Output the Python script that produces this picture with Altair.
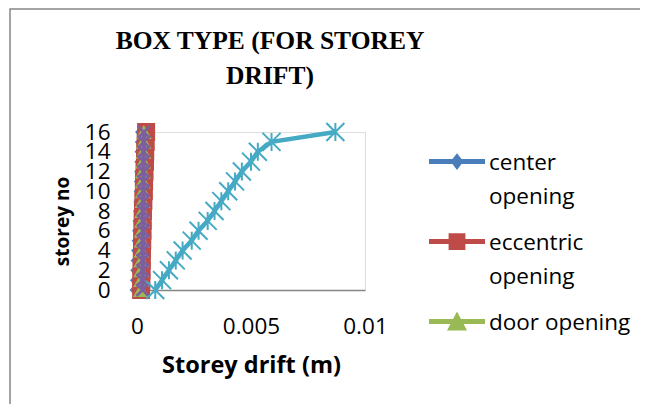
import altair as alt
import pandas as pd

# ---- data ----
storeys = list(range(17))
center_opening = [0.00000, 0.00002, 0.00003, 0.00005, 0.00007, 0.00009, 0.00011, 0.00013,
                  0.00015, 0.00017, 0.00018, 0.00019, 0.00020, 0.00021, 0.00022, 0.00023, 0.00024]
eccentric_opening = [0.00018, 0.00019, 0.00020, 0.00021, 0.00022, 0.00023, 0.00024, 0.00025,
                     0.00026, 0.00028, 0.00030, 0.00031, 0.00033, 0.00035, 0.00036, 0.00038, 0.00040]
door_opening = [0.00017, 0.00018, 0.00018, 0.00019, 0.00020, 0.00021, 0.00021, 0.00022,
                0.00023, 0.00024, 0.00025, 0.00025, 0.00026, 0.00027, 0.00028, 0.00029, 0.00030]
series_4 = [0.00024, 0.00024, 0.00025, 0.00025, 0.00026, 0.00026, 0.00027, 0.00027,
            0.00027, 0.00028, 0.00028, 0.00028, 0.00029, 0.00029, 0.00029, 0.00030, 0.00030]
series_5 = [0.0008, 0.0011, 0.0014, 0.0017, 0.0020, 0.0024, 0.0027, 0.0031,
            0.0034, 0.0037, 0.0040, 0.0043, 0.0046, 0.0050, 0.0053, 0.0059, 0.0087]

legend_names = ["center opening", "eccentric opening", "door opening"]
colors = ["#4A7EBB", "#BE4B48", "#98B954", "#7D5FA0", "#46AAC5"]
x_ticks = [0, 0.005, 0.01]
y_ticks = [0, 2, 4, 6, 8, 10, 12, 14, 16]

FONT = "Open Sans"
XS = alt.Scale(domain=[0, 0.01], nice=False)
YS = alt.Scale(domain=[0, 16], nice=False)

# legend symbols: line with marker in the middle (unit box -1..1)
dy = -0.30
t = 0.09
def shift(path_pts):
    return "M" + " L".join(f"{x:.3f},{y + dy:.3f}" for x, y in path_pts) + " Z"

dw, dh = 0.232, 0.30
dx_e = dw * (1 - t / dh)
sym_diamond = shift([(-1, -t), (-dx_e, -t), (0, -dh), (dx_e, -t), (1, -t), (1, t),
                     (dx_e, t), (0, dh), (-dx_e, t), (-1, t)])
sq = 0.30
sym_square = shift([(-1, -t), (-sq, -t), (-sq, -sq), (sq, -sq), (sq, -t), (1, -t),
                    (1, t), (sq, t), (sq, sq), (-sq, sq), (-sq, t), (-1, t)])
ta, tb, tw = -0.357, 0.32, 0.357
def tri_x(y):
    return tw * (y - ta) / (tb - ta)
sym_triangle = shift([(-1, -t), (-tri_x(-t), -t), (0, ta), (tri_x(-t), -t), (1, -t), (1, t),
                      (tri_x(t), t), (tw, tb), (-tw, tb), (-tri_x(t), t), (-1, t)])

x_enc = lambda: alt.X("drift:Q", scale=XS, axis=alt.Axis(
    values=x_ticks, format="~g", title="Storey drift (m)", ticks=False, grid=False,
    domainColor="#868686", domainWidth=1.5, labelFlush=False, labelPadding=25,
    labelFont=FONT, labelFontSize=22.5, labelColor="black",
    titleFont=FONT, titleFontSize=23.5, titleFontWeight="bold", titleColor="black",
    titleX=114, titleY=75, titleBaseline="middle"))
y_enc = lambda: alt.Y("storey:Q", scale=YS, axis=alt.Axis(
    values=y_ticks, title="storey no", ticks=False, grid=False, domain=False,
    labelFlush=False, labelOverlap=False, labelPadding=27,
    labelFont=FONT, labelFontSize=22.5, labelColor="black",
    titleFont=FONT, titleFontSize=19, titleFontWeight="bold", titleColor="black",
    titleX=-75, titleY=89, titleBaseline="middle", titleAlign="center", titleAngle=-90))

def frame(vals):
    return pd.DataFrame({"storey": storeys, "drift": vals})

def series_layers(vals, color, shape, size, filled, sw=None):
    base = alt.Chart(frame(vals))
    line = base.mark_line(color=color, strokeWidth=4.5).encode(
        x=x_enc(), y=y_enc(), order="storey:Q")
    kw = dict(shape=shape, size=size, filled=filled, opacity=1)
    if filled:
        kw["color"] = color
    else:
        kw["stroke"] = color
        kw["strokeWidth"] = sw
    pts = base.mark_point(**kw).encode(x=x_enc(), y=y_enc())
    return [line, pts]

X_PATH = "M-1,-1L1,1M-1,1L1,-1"
AST_PATH = "M-1,-1L1,1M-1,1L1,-1M0,-1L0,1"

layers = []
layers += series_layers(center_opening, colors[0], "diamond", 225, True)
layers += series_layers(eccentric_opening, colors[1], "square", 324, True)
layers += series_layers(door_opening, colors[2], "triangle-up", 256, True)
layers += series_layers(series_4, colors[3], X_PATH, 144, False, 2.5)
layers += series_layers(series_5, colors[4], AST_PATH, 324, False, 2)

legend_df = pd.DataFrame({"series": legend_names, "storey": [0, 0, 0],
                          "drift": [center_opening[0], eccentric_opening[0], door_opening[0]]})
legend_layer = alt.Chart(legend_df).mark_point(filled=True, opacity=0, size=3136).encode(
    x=x_enc(), y=y_enc(),
    color=alt.Color("series:N", scale=alt.Scale(domain=legend_names, range=colors[:3]),
                    legend=alt.Legend(title=None, orient="none", legendX=292, legendY=10,
                                      symbolSize=3136, symbolStrokeWidth=0, symbolOpacity=1,
                                      labelFont=FONT, labelFontSize=22.5, labelColor="black",
                                      labelBaseline="alphabetic", labelOffset=4, labelLimit=400,
                                      labelExpr="datum.label == 'door opening' ? datum.label : split(datum.label, ' ')",
                                      rowPadding=14, padding=0)),
    shape=alt.Shape("series:N", scale=alt.Scale(domain=legend_names,
                                                range=[sym_diamond, sym_square, sym_triangle]),
                    legend=None)
)

border = alt.Chart(pd.DataFrame({"a": [0]})).mark_rect(
    fillOpacity=0, stroke="#868686", strokeWidth=1.5).encode(
    x=alt.value(-127), x2=alt.value(700), y=alt.value(-123), y2=alt.value(500))

chart = alt.layer(*layers, legend_layer, border).properties(
    width=228, height=158,
    title=alt.TitleParams(text=["BOX TYPE (FOR STOREY", "DRIFT)"], font="Liberation Serif",
                          fontSize=25.5, fontWeight="bold", color="black", lineHeight=35,
                          anchor="middle", frame="group", baseline="top", dx=19, dy=81, offset=0),
    autosize=alt.AutoSizeParams(type="none"),
    padding={"left": 129, "top": 124, "right": 275, "bottom": 114},
).configure_view(strokeWidth=0).configure(style={"guide-label": {"lineHeight": 33.5}})

chart.save("out.html", embed_options={"renderer": "svg", "actions": False})
